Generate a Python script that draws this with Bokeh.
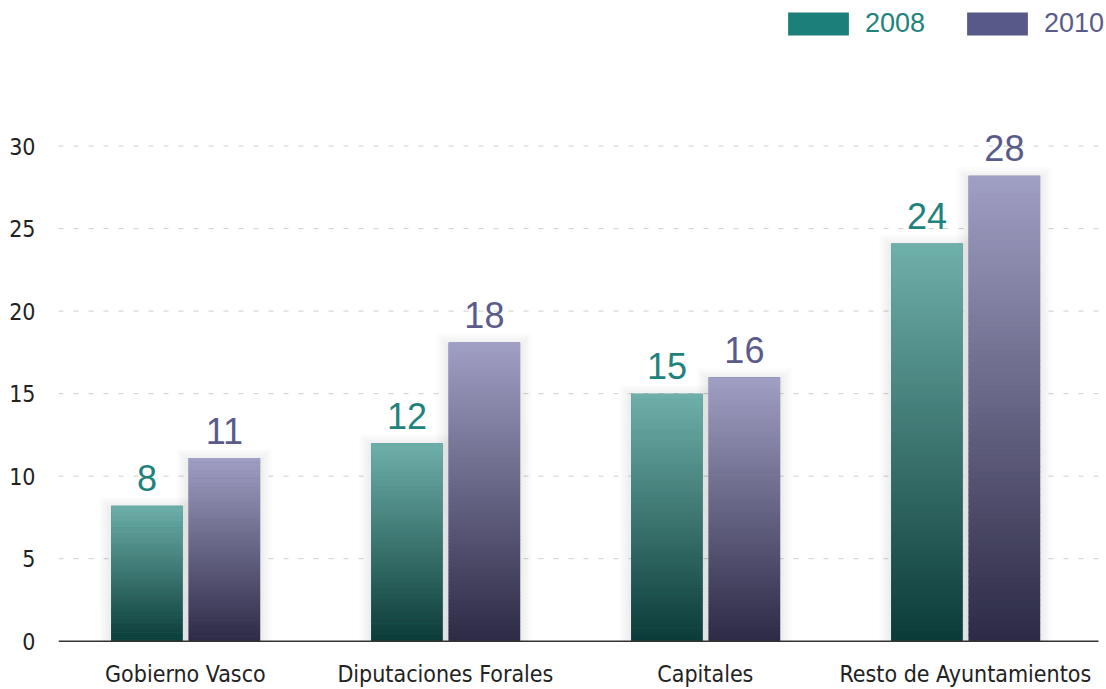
import numpy as np
from bokeh.plotting import figure
from bokeh.models import Range1d, FixedTicker, ColumnDataSource, Legend, LegendItem
from bokeh.core.properties import value
from bokeh.embed import file_html
from bokeh.resources import INLINE

# ---- data ----
categories = ["Gobierno Vasco", "Diputaciones Forales", "Capitales", "Resto de Ayuntamientos"]
years = ["2008", "2010"]
values_2008 = [8.2, 12.0, 15.0, 24.1]
values_2010 = [11.1, 18.1, 16.0, 28.2]
y_ticks = [0, 5, 10, 15, 20, 25, 30]

# ---- layout ----
W, H = 1106, 689
BL, BR, BB = 58, 0, 45
FW, FH = W - BL - BR, H - BB     # frame size in px
CAT_PX = 260.0                   # px per category
x0 = -0.488
x1 = x0 + FW / CAT_PX
x_end = x0 + 1040 / CAT_PX       # where axis line and grid stop
PX_PER_UNIT = 16.53
dx = 1.0 / CAT_PX                # data units per px (x)
dy = 1.0 / PX_PER_UNIT           # data units per px (y)
y0 = -2.3 * dy                   # a little room below zero so the base line is not clipped
y1 = y0 + FH * dy

AX_FONT = "'DejaVu Sans Condensed', 'Liberation Sans Narrow', Roboto"
TEAL_TXT = "#1f837d"
PURP_TXT = "#5a5b8a"
series = [
    dict(name="2008", vals=values_2008, off=-0.148, top="#6fb0aa", bot="#0b3b38",
         solid="#1b7f7a", txt=TEAL_TXT),
    dict(name="2010", vals=values_2010, off=0.150, top="#a09fc4", bot="#2c2a44",
         solid="#575a88", txt=PURP_TXT),
]
BAR_W = 0.275

p = figure(width=W, height=H, output_backend="svg", toolbar_location=None,
           x_range=Range1d(x0, x1), y_range=Range1d(y0, y1),
           min_border_left=BL, min_border_right=BR, min_border_top=0, min_border_bottom=BB)
p.outline_line_color = None
p.background_fill_color = "white"
p.border_fill_color = "white"

# grid (drawn as segments so it stops where the reference's does)
p.xgrid.visible = False
p.ygrid.visible = False
grid_y = [t for t in y_ticks if t > 0]
p.segment(x0=[x0] * len(grid_y), x1=[x_end] * len(grid_y), y0=grid_y, y1=grid_y,
          line_color="#cfcfcf", line_dash="5 10", line_width=1)

# axes
p.yaxis.ticker = FixedTicker(ticks=y_ticks)
p.yaxis.axis_line_color = None
p.yaxis.major_tick_line_color = None
p.yaxis.minor_tick_line_color = None
p.yaxis.major_tick_out = 0
p.yaxis.major_tick_in = 0
p.yaxis.major_label_standoff = 23
p.yaxis.major_label_text_font = AX_FONT
p.yaxis.major_label_text_font_size = "23px"
p.yaxis.major_label_text_color = "#222222"

p.xaxis.ticker = FixedTicker(ticks=list(range(len(categories))))
p.xaxis.major_label_overrides = {i: c for i, c in enumerate(categories)}
p.xaxis.axis_line_color = None
p.xaxis.major_tick_line_color = None
p.xaxis.minor_tick_line_color = None
p.xaxis.major_tick_out = 0
p.xaxis.major_tick_in = 0
p.xaxis.major_label_standoff = 17
p.xaxis.major_label_text_font = AX_FONT
p.xaxis.major_label_text_font_size = "23px"
p.xaxis.major_label_text_color = "#222222"


def hex2rgb(h):
    h = h.lstrip("#")
    return np.array([int(h[i:i + 2], 16) for i in (0, 2, 4)], dtype=float)


def rgb2hex(c):
    return "#%02x%02x%02x" % tuple(int(round(v)) for v in c)


# shadows (drawn first)
for s in series:
    xs = np.arange(len(categories)) + s["off"]
    vals = np.array(s["vals"], dtype=float)
    L, b, t, R = [], [], [], []
    for k in range(1, 7):
        e = 2 * k
        L += list(xs - BAR_W / 2 - e * dx)
        R += list(xs + BAR_W / 2 + e * dx)
        b += [0] * len(xs)
        t += list(vals + (e - 3) * dy)
    p.quad(left=L, right=R, bottom=b, top=t, fill_color="black", fill_alpha=0.013,
           line_color=None)

legend_renderers = {}
N = 80
for s in series:
    xs = np.arange(len(categories)) + s["off"]
    vals = np.array(s["vals"], dtype=float)
    base = p.vbar(x=xs, top=vals, width=BAR_W, fill_color=s["solid"], line_color=None)
    legend_renderers[s["name"]] = base
    ctop, cbot = hex2rgb(s["top"]), hex2rgb(s["bot"])
    L, R, B, T, C = [], [], [], [], []
    for xi, v in zip(xs, vals):
        for i in range(N):
            f = (i + 0.5) / N
            c = cbot + (ctop - cbot) * f
            L.append(xi - BAR_W / 2)
            R.append(xi + BAR_W / 2)
            B.append(v * i / N)
            T.append(v * (i + 1) / N + (0.0 if i == N - 1 else v * 0.2 / N))
            C.append(rgb2hex(c))
    src = ColumnDataSource(dict(left=L, right=R, bottom=B, top=T, color=C))
    p.quad(left="left", right="right", bottom="bottom", top="top", fill_color="color",
           line_color=None, source=src)
    p.text(x=xs, y=vals + 27.5 * dy, text=["%.0f" % v for v in s["vals"]],
           text_align="center", text_baseline="middle", text_color=s["txt"],
           text_font=value("Liberation Sans"), text_font_size="36px")

# baseline (x axis line)
p.segment(x0=[x0], x1=[x_end], y0=[0], y1=[0], line_color="#333333", line_width=1.5)

# legends (area glyphs are inset by 10% on each side)
GW, GH = 76, 29
for s, lx in zip(series, [722, 901]):
    lg = Legend(items=[LegendItem(label=s["name"], renderers=[legend_renderers[s["name"]]])],
                location=(lx, FH - 40), orientation="horizontal",
                glyph_width=GW, glyph_height=GH, label_standoff=9, padding=0, margin=0,
                border_line_color=None, background_fill_alpha=0,
                label_text_font="Liberation Sans", label_text_font_size="27px",
                label_text_color=s["txt"], label_height=GH)
    p.add_layout(lg, "center")

open("out.html", "w").write(file_html(p, INLINE))
